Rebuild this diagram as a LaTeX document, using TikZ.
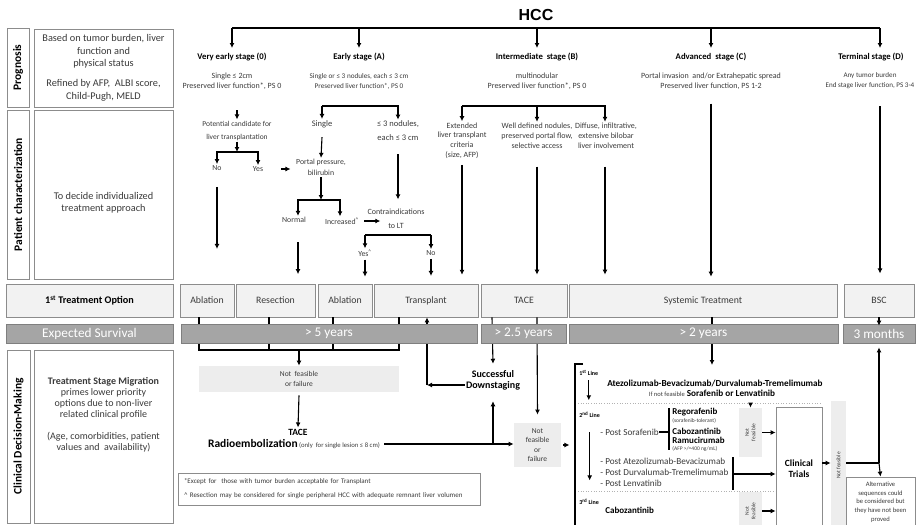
\documentclass[tikz,border=0pt]{standalone}
\usepackage{fontspec}
\setmainfont{Carlito}
\newfontfamily\hccfont{Liberation Sans}
\usetikzlibrary{arrows.meta}
\definecolor{boxline}{HTML}{8C8C8C}
\definecolor{boxfill}{HTML}{F2F2F2}
\definecolor{barfill}{HTML}{A5A5A5}
\definecolor{barline}{HTML}{7F7F7F}
\definecolor{softfill}{HTML}{EDEDED}
\definecolor{ink}{HTML}{3A3A3A}
\newcommand{\fs}[2]{\fontsize{#1}{#2}\selectfont}

\begin{document}
\begin{tikzpicture}[x=1pt, y=-1pt, thick,
	arr/.style={-{Latex[length=5pt,width=5pt]}, line width=1.1pt},
	wire/.style={line width=1.1pt},
	heavy/.style={line width=1.6pt},
	note/.style={inner sep=1pt, align=center, text=ink, font=\fs{7.8}{10}},
	stagehead/.style={inner sep=1pt, font=\bfseries\fs{8.7}{10}},
	lbl/.style={draw=boxline, fill=white, line width=0.8pt, rotate=90, font=\bfseries\fs{11.5}{13}, inner sep=0pt},
	side/.style={draw=boxline, fill=white, line width=0.8pt, inner sep=0pt},
	treat/.style={draw=boxline, fill=boxfill, line width=0.8pt, minimum height=33pt, inner sep=0pt, text=ink, font=\fs{9.8}{10}},
	bar/.style={draw=barline, fill=barfill, line width=0.8pt, minimum height=19pt, inner sep=0pt, text=white, font=\fs{13.3}{14}},
	soft/.style={fill=softfill, inner sep=0pt, align=center, text=ink, font=\fs{7.5}{10}},
	vsoft/.style={fill=softfill, inner sep=0pt, rotate=90, align=center, text=ink, font=\fs{5.5}{6.5}},
	bold9/.style={anchor=west, inner sep=0pt, font=\bfseries\fs{9}{10}},
	plain9/.style={anchor=west, inner sep=0pt, text=ink, font=\fs{9.2}{10}},
	small/.style={anchor=west, inner sep=0pt, text=ink, font=\fs{5.5}{6}},
	linehead/.style={anchor=west, inner sep=0pt, font=\bfseries\fs{6}{7}},
	dotline/.style={gray!60, dotted, line width=0.6pt},
]
\useasboundingbox (0,0) rectangle (922,525);

%left column
\node[lbl, minimum width=79pt, minimum height=22pt] (progl) at (18,67.5) {Prognosis};
\node[side, minimum width=139pt, minimum height=78pt, align=center, text=ink, font=\fs{10.3}{12.5}] (progt) at (103.5,68)
	{Based on tumor burden, liver\\function and\\physical status\\[7.5pt]Refined by AFP,~ ALBI score,\\Child-Pugh, MELD};
\node[lbl, minimum width=169pt, minimum height=22pt] (patl) at (18,194.5) {Patient characterization};
\node[side, minimum width=139pt, minimum height=169pt] (patb) at (103.5,194.5) {};
\node[note, font=\fs{10.3}{12.5}] (patt) at (103.5,203) {To decide individualized\\treatment approach};
\node[treat, minimum width=167pt, text=black, font=\bfseries\fs{10.2}{11}] (opt) at (89.5,300.5) {1\textsuperscript{st} Treatment Option};
\node[lbl, minimum width=173pt, minimum height=23pt] (clinl) at (18.5,436.5) {Clinical Decision-Making};
\node[side, minimum width=139pt, minimum height=173pt] (clinb) at (103.5,436.5) {};
\node[note, font=\fs{10}{11}] (clint) at (103.5,415)
	{\textbf{Treatment Stage Migration}\\primes lower priority\\options due to non-liver\\related clinical profile\\[11pt](Age, comorbidities, patient\\values and~ availability)};

%stages
\node[font=\hccfont\bfseries\fs{16}{18}] (hcc) at (536,15) {HCC};
\coordinate (top) at (232,28);
\coordinate (dcol) at (880,0);
\draw[wire] (top) -- (dcol |- top);

\node[stagehead] (s0) at (232,57) {Very early stage (0)};
\node[stagehead] (sA) at (359,57) {Early stage (A)};
\node[stagehead] (sB) at (537,57) {Intermediate~ stage (B)};
\node[stagehead] (sC) at (711,57) {Advanced~ stage (C)};
\node[stagehead] (sD) at (871,57) {Terminal stage (D)};
\foreach \n in {s0,sA,sB,sC}{
	\draw[arr] (\n.north |- top) -- ++(0,20);
}
\draw[arr] (dcol |- top) -- ++(0,20);

\node[note, font=\fs{8}{10}] (d0) at (232,81) {Single ≤ 2cm\\Preserved liver function*, PS 0};
\node[note, font=\fs{7.2}{10}] (dA) at (359,81) {Single or ≤ 3 nodules, each ≤ 3 cm\\Preserved liver function*, PS 0};
\node[note, font=\fs{8}{10}] (dB) at (537,81) {multinodular\\Preserved liver function*, PS 0};
\node[note, font=\fs{8}{10}] (dC) at (711,81) {Portal invasion~ and/or Extrahepatic spread\\Preserved liver function, PS 1-2};
\node[note, font=\fs{7.1}{10}] (dD) at (870,81) {Any tumor burden\\End stage liver function, PS 3-4};

%very early stage
\node[note, font=\fs{7.5}{13}] (cand) at (237,130.5) {Potential candidate for\\liver transplantation};
\draw[arr] ([yshift=9pt]cand.north) -- (cand.north);
\coordinate (b0) at (237,152);
\draw[arr] (cand.south) -- (b0);
\node[note] (no0) at (217,168) {No};
\node[note] (yes0) at (258,169) {Yes};
\draw[arr] (b0) -| (no0.north);
\draw[arr] (b0) -| (yes0.north);
\draw[arr] ([xshift=17pt]yes0.east) -- ++(9,0);
\draw[arr] (no0.south) ++(0,15) -- ++(0,62);

%early stage
\coordinate (brA) at (360,106);
\node[note, font=\fs{8.5}{10}] (single) at (322,124) {Single};
\node[note, font=\fs{8.5}{14}] (nod3) at (398,131) {≤ 3 nodules,\\each ≤ 3 cm};
\draw[arr] (single.north |- brA) -- (single.north);
\draw[arr] (single.north |- brA) -| (nod3.north);
\node[note, font=\fs{7.8}{11}] (portal) at (321,167.5) {Portal pressure,\\bilirubin};
\draw[arr] (single.south) ++(0,8) -- (portal.north);
\coordinate (brP) at (321,200);
\draw[arr] (portal.south) -- (brP);
\node[note] (normal) at (294,220) {Normal};
\node[note] (incr) at (342,221) {Increased\textsuperscript{\textasciicircum}};
\draw[arr] (brP) -| ([xshift=4pt]normal.north);
\draw[arr] (brP) -| ([xshift=-2pt]incr.north);
\draw[arr] ([xshift=4pt]incr.east) -- ++(16,0);
\node[note, font=\fs{8}{14}] (contra) at (396,219) {Contraindications\\to LT};
\draw[arr] (nod3.south) ++(0,12) -- ++(0,45);
\coordinate (brC) at (398,235);
\node[note] (yes1) at (365,253) {Yes\textsuperscript{\textasciicircum}};
\node[note] (no1) at (431,253) {No};
\draw[wire] (yes1.north |- brC) -- (no1.north |- brC);
\draw[arr] (yes1.north |- brC) -- (yes1.north);
\draw[arr] (no1.north |- brC) -- (no1.north);
\draw[arr] (yes1.south) ++(0,2) -- ++(0,17);
\draw[arr] (no1.south) ++(0,2) -- ++(0,17);
\draw[arr] ([xshift=4pt]normal.south) ++(0,18) -- ++(0,32);

%intermediate stage
\coordinate (brB) at (537,106);
\node[note, font=\fs{8}{9.7}] (ext) at (462,140.5) {Extended\\liver transplant\\criteria\\(size, AFP)};
\node[note, font=\fs{8}{9.7}] (well) at (537,135.7) {Well defined nodules,\\preserved portal flow,\\selective access};
\node[note, font=\fs{8}{9.7}] (diff) at (606,135.7) {Diffuse, infiltrative,\\extensive bilobar\\liver involvement};
\draw[arr] (ext.north |- brB) -| ([xshift=-1pt]diff.north);
\draw[arr] (ext.north |- brB) -- (ext.north);
\draw[arr] (well.north |- brB) -- (well.north);
\draw[arr] (ext.south) ++(0,5) -- ++(0,110);
\draw[arr] (well.south) ++(0,17) -- ++(0,108);
\draw[arr] ([xshift=-1pt]diff.south) ++(0,17) -- ++(0,108);

%advanced and terminal
\draw[arr] (dC.south) ++(0,13) -- ++(0,173);
\draw[arr] (dD.south -| dcol) ++(0,16) -- ++(0,167);

%1st treatment option
\node[treat, minimum width=54pt] (ab1) at (207,300.5) {Ablation};
\node[treat, minimum width=79pt] (res) at (275.5,300.5) {Resection};
\node[treat, minimum width=54pt] (ab2) at (345,300.5) {Ablation};
\node[treat, minimum width=104pt] (tp) at (426,300.5) {Transplant};
\node[treat, minimum width=86pt] (tace) at (524,300.5) {TACE};
\node[treat, minimum width=268pt] (sys) at (703,300.5) {Systemic Treatment};
\node[treat, minimum width=70pt] (bsc) at (879,300.5) {BSC};

%stage migration
\coordinate (mg) at (299,350);
\draw[wire] ([xshift=-8pt]ab1.south) |- (mg);
\draw[wire] ([xshift=-6.5pt]res.south) |- (mg);
\draw[wire] ([xshift=-12pt]ab2.south) |- (mg);
\draw[wire] ([xshift=-27pt]tp.south) |- (mg);
\node[soft, minimum width=200pt, minimum height=26pt] (nf1) at (299,379) {Not~ feasible\\or failure};
\draw[arr] (mg) -- (nf1.north);
\node[inner sep=1pt, font=\bfseries\fs{9.5}{10}] (tacet) at (298,432) {TACE};
\node[inner sep=1pt, text=ink, font=\fs{6.7}{8}] (radio) at (294,444) {{\color{black}\bfseries\fs{11.5}{12}Radioembolization} (only~ for single lesion ≤ 8 cm)};
\draw[arr] (nf1.south) ++(0,3) -- (tacet.north);

\node[inner sep=1pt, align=center, font=\bfseries\fs{10}{11}] (down) at (493,380) {Successful\\Downstaging};
\node[soft, minimum width=47pt, minimum height=44pt, font=\fs{7.5}{9.3}] (nf2) at (537.5,445) {Not\\feasible\\or\\failure};
\draw[arr] ([xshift=-32pt]tace.south) -- ([yshift=5pt]down.north);
\draw[arr] ([xshift=13pt]tace.south) -- ([yshift=8pt]nf2.north);
\draw[arr] ([xshift=3pt]radio.east) -- (nf2.west |- radio.east);
\draw[arr] (down.south |- radio.east) -- ([yshift=-10pt]down.south);
\coordinate (corner) at (427,385);
\draw[arr] (down.west |- corner) -- (corner);
\draw[arr] (corner) -- (tp.south -| corner);
\draw[arr] ([xshift=2pt]nf2.east) -- ++(6,0);

\node[side, minimum width=302pt, minimum height=32pt, text width=290pt, align=left, text=ink, font=\fs{7}{14}] (foot) at (329,489)
	{*Except for~ those with tumor burden acceptable for Transplant\\\textasciicircum{} Resection may be considered for single peripheral HCC with adequate remnant liver volumen};

%systemic lines
\coordinate (sysin) at (712,365);
\draw[arr] (sys.south -| sysin) -- (sysin);
\coordinate (brk) at (575,364);
\draw[heavy] ([xshift=8pt]brk) -- (brk) -- ++(0,170);

\node[linehead] (l1) at (579,373) {1\textsuperscript{st} Line};
\node[inner sep=1pt, font=\bfseries\fs{9.2}{10}] (atezo) at (715,383) {Atezolizumab-Bevacizumab/Durvalumab-Tremelimumab};
\node[inner sep=1pt, font=\fs{9.2}{10}] (ifnot) at (712,393.5) {{\color{ink}\fs{6.5}{7}If not feasible} \textbf{Sorafenib or Lenvatinib}};
\draw[arr] (l1.south) ++(0,4) -- ++(0,20);
\coordinate (dot1) at (578,403);
\draw[dotline] (dot1) -- ++(242,0);

\node[linehead] (l2) at (579,415) {2\textsuperscript{nd} Line};
\draw[arr] (l2.south) ++(0,14) -- ++(0,48);
\node[plain9] (psor) at (600,432) {- Post Sorafenib};
\coordinate (brS) at (669,408);
\draw[heavy] (psor.east) -- (psor.east -| brS);
\draw[heavy] (brS) -- ++(0,42);
\node[bold9] (regor) at (672,412) {Regorafenib};
\node[small] (stol) at (672,420.5) {(sorafenib-tolerant)};
\node[bold9] (cabo2) at (672,431) {Cabozantinib};
\node[bold9] (ramu) at (672,440) {Ramucirumab};
\node[small] (afp) at (672,448.5) {(AFP >/=400 ng/mL)};
\node[plain9] (pate) at (600,461) {- Post Atezolizumab-Bevacizumab};
\node[plain9] (pdur) at (600,472) {- Post Durvalumab-Tremelimumab};
\node[plain9] (plen) at (600,483) {- Post Lenvatinib};
\coordinate (brL) at (733,457);
\coordinate (brLm) at (733,474);
\draw[heavy] (brL) -- ++(0,33);
\coordinate (dot2) at (578,491);
\draw[dotline] (dot2) -- ++(242,0);

\node[linehead] (l3) at (579,502) {3\textsuperscript{rd} Line};
\node[bold9] (cabo3) at (605,510) {Cabozantinib};

\node[vsoft, minimum width=49pt, minimum height=23pt] (nfv1) at (750.5,432.5) {Not\\feasible};
\node[vsoft, minimum width=38pt, minimum height=23pt] (nfv2) at (750.5,511) {Not\\feasible};
\node[side, minimum width=46pt, minimum height=123pt, align=center, font=\bfseries\fs{9.5}{11}] (ct) at (799,468.5) {Clinical\\Trials};
\draw[arr] (nfv1.east |- dot1) -- (nfv1.east);
\draw[arr] (nfv1.south) -- (ct.west |- nfv1.south);
\draw[arr] (nfv2.south) -- (ct.west |- nfv2.south);
\draw[arr, heavy] (brLm) -- (ct.west |- brLm);

\node[vsoft, minimum width=129pt, minimum height=15pt] (nfv3) at (838.5,465.5) {Not feasible};
\coordinate (jn) at (879,463);
\draw[arr] (ct.east |- jn) -- (nfv3.north |- jn);
\draw[heavy] (nfv3.south |- jn) -- (jn);
\node[side, minimum width=69pt, minimum height=50pt, align=center, text=ink, font=\fs{6.6}{8.7}] (alt) at (880.5,502)
	{Alternative\\sequences could\\be considered but\\they have not been\\proved};
\draw[arr] (jn) -- (alt.north);

%expected survival
\node[bar, minimum width=167pt] (surv) at (89.5,333.5) {Expected Survival};
\node[bar, minimum width=296pt] (sv5) at (329,333.5) {> 5 years};
\node[bar, minimum width=85pt] (sv25) at (523.5,333.5) {> 2.5 years};
\node[bar, minimum width=269pt] (sv2) at (703.5,333.5) {> 2 years};
\node[bar, minimum width=72pt] (sv3) at (879,333.5) {3 months};
\draw[arr] (bsc.south) -- ([yshift=-2pt]sv3.north);
\draw[arr] (jn) -- ([yshift=-4pt]sv3.south);
\end{tikzpicture}
\end{document}
